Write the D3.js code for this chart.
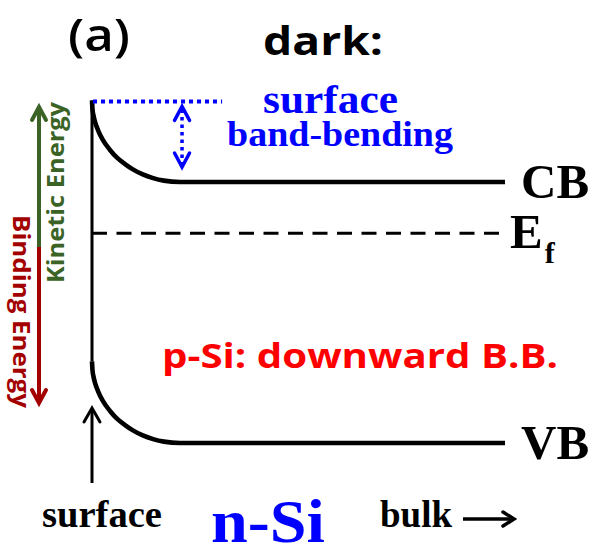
<!DOCTYPE html>
<html>
<head>
<meta charset="utf-8">
<script src="https://cdn.jsdelivr.net/npm/d3@7/dist/d3.min.js"></script>
<style>
  html, body { margin: 0; padding: 0; background: #ffffff; }
  svg { display: block; }
</style>
</head>
<body>
<svg id="chart" width="606" height="556"></svg>
<script>
// Band diagram of the Si surface in the dark: CB, Ef and VB versus depth.

// depth from the surface (nm) and the fraction of the band bending left at that depth
const depthNm   = [0, 0.12, 0.36, 0.73, 1.45, 2.66, 4.36, 6.05, 8.0, 9.9, 12.3, 14.8, 17.4, 21.3, 100];
const bendFrac  = [1, 0.893, 0.815, 0.738, 0.637, 0.512, 0.393, 0.298, 0.220, 0.155, 0.093, 0.048, 0.017, 0, 0];

// band edges in the bulk (eV, relative to the VB maximum)
const bandNames  = ["CB", "VB"];
const bandBulkEV = [1.12, 0];
const fermiEV    = 0.90;
const bandBendingEV = 0.35;

const svg = d3.select("#chart");

const x = d3.scaleLinear().domain([0, 100]).range([92, 505]);
const y = d3.scaleLinear().domain([0, 1.12]).range([443, 182]);

const black = "#000000";
const blue = "#0000ff";
const red = "#ff0000";
const green = "#3b6326";
const darkRed = "#a30000";

// chevron arrow head pointing along (dx, dy) at tip (tx, ty)
function head(g, tx, ty, dx, dy, len, half, color, width) {
  const nx = -dy, ny = dx;
  const bx = tx - dx * len, by = ty - dy * len;
  g.append("path")
    .attr("d", `M${bx + nx * half},${by + ny * half}L${tx},${ty}L${bx - nx * half},${by - ny * half}`)
    .attr("fill", "none")
    .attr("stroke", color)
    .attr("stroke-width", width)
    .attr("stroke-linejoin", "miter")
    .attr("stroke-linecap", "round");
}

// surface: vertical line from CB to VB at depth 0
svg.append("line")
  .attr("x1", x(0)).attr("x2", x(0))
  .attr("y1", y(bandBulkEV[0] + bandBendingEV))
  .attr("y2", y(bandBulkEV[1] + bandBendingEV))
  .attr("stroke", black)
  .attr("stroke-width", 3);

// Fermi level
svg.append("line")
  .attr("x1", x(0)).attr("x2", x(99.3))
  .attr("y1", y(fermiEV)).attr("y2", y(fermiEV))
  .attr("stroke", black)
  .attr("stroke-width", 3.2)
  .attr("stroke-dasharray", "15,9.5");

// CB and VB profiles
const bandLine = d3.line()
  .x(d => x(d[0]))
  .y(d => y(d[1]))
  .curve(d3.curveMonotoneX);

bandBulkEV.forEach((e0, i) => {
  const pts = depthNm.map((d, k) => [d, e0 + bandBendingEV * bendFrac[k]]);
  svg.append("path")
    .attr("d", bandLine(pts))
    .attr("fill", "none")
    .attr("stroke", black)
    .attr("stroke-width", 4.6)
    .attr("stroke-linecap", "butt");
});

// band labels
const serif = "'Liberation Serif', 'Times New Roman', serif";
const sans = "'Open Sans', 'Noto Sans', sans-serif";

bandNames.forEach((name, i) => {
  svg.append("text")
    .attr("x", 521)
    .attr("y", y(bandBulkEV[i]) + 16)
    .attr("font-family", serif)
    .attr("font-weight", "bold")
    .attr("font-size", 49)
    .attr("fill", black)
    .text(name);
});

const ef = svg.append("text")
  .attr("x", 510)
  .attr("y", y(fermiEV) + 15)
  .attr("font-family", serif)
  .attr("font-weight", "bold")
  .attr("font-size", 49)
  .attr("fill", black);
ef.append("tspan").text("E");
ef.append("tspan").attr("font-size", 30).attr("dx", 2).attr("dy", 15).text("f");

// surface band-bending marker
const bbTop = y(bandBulkEV[0] + bandBendingEV) + 1;
svg.append("line")
  .attr("x1", x(0) + 1).attr("x2", x(31.5))
  .attr("y1", bbTop).attr("y2", bbTop)
  .attr("stroke", blue)
  .attr("stroke-width", 4)
  .attr("stroke-dasharray", "4,4");

const ax = x(21.8);
const g = svg.append("g");
g.append("line")
  .attr("x1", ax).attr("x2", ax)
  .attr("y1", bbTop + 8).attr("y2", y(bandBulkEV[0]) - 17)
  .attr("stroke", blue)
  .attr("stroke-width", 3.5)
  .attr("stroke-dasharray", "3.5,4");
head(g, ax, bbTop + 5, 0, -1, 14, 7.5, blue, 3.5);
head(g, ax, y(bandBulkEV[0]) - 15, 0, 1, 14, 7.5, blue, 3.5);

svg.append("text")
  .attr("x", 263).attr("y", 113)
  .attr("font-family", serif).attr("font-weight", "bold")
  .attr("font-size", 39).attr("fill", blue)
  .attr("textLength", 135).attr("lengthAdjust", "spacingAndGlyphs")
  .text("surface");
svg.append("text")
  .attr("x", 227).attr("y", 146)
  .attr("font-family", serif).attr("font-weight", "bold")
  .attr("font-size", 35).attr("fill", blue)
  .attr("textLength", 226).attr("lengthAdjust", "spacingAndGlyphs")
  .text("band-bending");

// titles
svg.append("text")
  .attr("x", 68).attr("y", 51)
  .attr("font-family", sans).attr("font-weight", 600)
  .attr("font-size", 46).attr("fill", black)
  .attr("textLength", 62).attr("lengthAdjust", "spacingAndGlyphs")
  .text("(a)");
svg.append("text")
  .attr("x", 263).attr("y", 55)
  .attr("font-family", sans).attr("font-weight", "bold")
  .attr("font-size", 39).attr("fill", black)
  .attr("textLength", 120).attr("lengthAdjust", "spacingAndGlyphs")
  .text("dark:");

svg.append("text")
  .attr("x", 162).attr("y", 368)
  .attr("font-family", sans).attr("font-weight", "bold")
  .attr("font-size", 34).attr("fill", red)
  .attr("textLength", 396).attr("lengthAdjust", "spacingAndGlyphs")
  .text("p-Si: downward B.B.");

// energy direction arrows
const ea = svg.append("g");
const ex = 39, eMid = 247;
ea.append("line")
  .attr("x1", ex).attr("x2", ex).attr("y1", eMid).attr("y2", 108)
  .attr("stroke", green).attr("stroke-width", 4);
head(ea, ex, 107, 0, -1, 13, 7, green, 4);
ea.append("line")
  .attr("x1", ex).attr("x2", ex).attr("y1", eMid).attr("y2", 402)
  .attr("stroke", darkRed).attr("stroke-width", 4);
head(ea, ex, 403, 0, 1, 13, 7, darkRed, 4);

svg.append("text")
  .attr("transform", "translate(64,283) rotate(-90)")
  .attr("font-family", sans).attr("font-weight", "bold")
  .attr("font-size", 24).attr("fill", green)
  .attr("textLength", 181).attr("lengthAdjust", "spacingAndGlyphs")
  .text("Kinetic Energy");
svg.append("text")
  .attr("transform", "translate(13,215) rotate(90)")
  .attr("font-family", sans).attr("font-weight", "bold")
  .attr("font-size", 24).attr("fill", darkRed)
  .attr("textLength", 193).attr("lengthAdjust", "spacingAndGlyphs")
  .text("Binding Energy");

// depth axis captions
const sa = svg.append("g");
sa.append("line")
  .attr("x1", x(0)).attr("x2", x(0)).attr("y1", 483).attr("y2", 409)
  .attr("stroke", black).attr("stroke-width", 3);
head(sa, x(0), 408, 0, -1, 14, 8, black, 3);

svg.append("text")
  .attr("x", 42).attr("y", 527)
  .attr("font-family", serif).attr("font-weight", "bold")
  .attr("font-size", 38).attr("fill", black)
  .attr("textLength", 120).attr("lengthAdjust", "spacingAndGlyphs")
  .text("surface");
svg.append("text")
  .attr("x", 211).attr("y", 542)
  .attr("font-family", serif).attr("font-weight", "bold")
  .attr("font-size", 61).attr("fill", blue)
  .attr("textLength", 114).attr("lengthAdjust", "spacingAndGlyphs")
  .text("n-Si");
svg.append("text")
  .attr("x", 380).attr("y", 527)
  .attr("font-family", serif).attr("font-weight", "bold")
  .attr("font-size", 37).attr("fill", black)
  .attr("textLength", 72).attr("lengthAdjust", "spacingAndGlyphs")
  .text("bulk");
sa.append("line")
  .attr("x1", 463).attr("x2", 512).attr("y1", 519).attr("y2", 519)
  .attr("stroke", black).attr("stroke-width", 3.5);
head(sa, 514, 519, 1, 0, 11, 7, black, 3.5);
</script>
</body>
</html>
